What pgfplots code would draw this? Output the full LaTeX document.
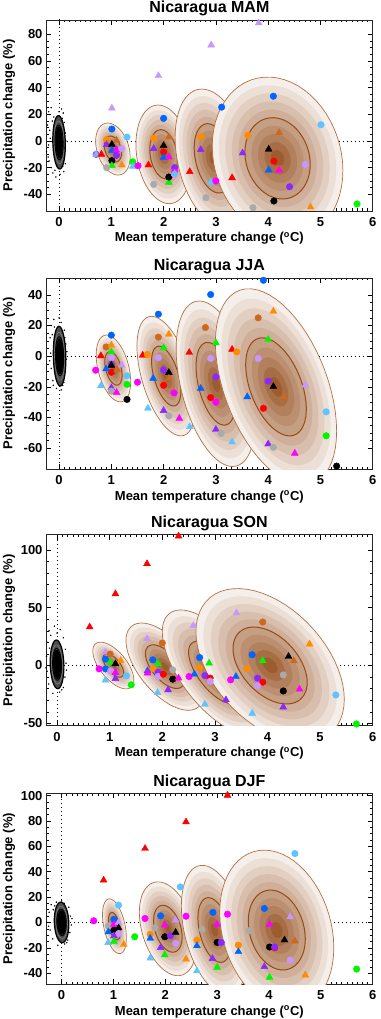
\documentclass[border=0pt]{standalone}
\usepackage{pgfplots}
\pgfplotsset{compat=1.18}
\usepackage{pgfplotstable}
\usepackage{fontspec}
\setmainfont{Liberation Sans}

\definecolor{ecore}{RGB}{148,78,28}
\colorlet{e1}{ecore!9!white}
\colorlet{e2}{ecore!18!white}
\colorlet{e3}{ecore!27!white}
\colorlet{e4}{ecore!36!white}
\colorlet{e5}{ecore!45!white}
\colorlet{e6}{ecore!54!white}
\colorlet{e7}{ecore!63!white}
\colorlet{e8}{ecore!72!white}
\colorlet{e9}{ecore!82!white}
\colorlet{e10}{ecore!92!white}
\definecolor{eline}{RGB}{180,112,65}
\definecolor{ein}{RGB}{150,75,20}
\definecolor{cblue}{RGB}{0,100,255}
\definecolor{clblue}{RGB}{95,195,255}
\definecolor{cred}{RGB}{255,0,0}
\definecolor{corange}{RGB}{255,140,0}
\definecolor{cbrown}{RGB}{205,105,30}
\definecolor{cgreen}{RGB}{0,245,0}
\definecolor{cmag}{RGB}{255,0,255}
\definecolor{cpurple}{RGB}{140,40,255}
\definecolor{clav}{RGB}{200,150,255}
\definecolor{cgray}{RGB}{170,170,170}

% ellipse: cx cy sx sy rho scale colour
\newcommand{\ellband}[7]{\addplot[draw=none,fill=#7,domain=0:360,samples=61,forget plot]
 ({#1+#6*#3*cos(x)},{#2+#6*#4*((#5)*cos(x)+sqrt(1-(#5)*(#5))*sin(x))});}
\newcommand{\ellcurve}[7]{\addplot[#7,domain=0:360,samples=61,forget plot]
 ({#1+#6*#3*cos(x)},{#2+#6*#4*((#5)*cos(x)+sqrt(1-(#5)*(#5))*sin(x))});}
\newcommand{\ellgrp}[5]{%
\ellband{#1}{#2}{#3}{#4}{#5}{1.0}{e1}%
\ellband{#1}{#2}{#3}{#4}{#5}{0.9}{e2}%
\ellband{#1}{#2}{#3}{#4}{#5}{0.8}{e3}%
\ellband{#1}{#2}{#3}{#4}{#5}{0.7}{e4}%
\ellband{#1}{#2}{#3}{#4}{#5}{0.6}{e5}%
\ellband{#1}{#2}{#3}{#4}{#5}{0.5}{e6}%
\ellband{#1}{#2}{#3}{#4}{#5}{0.4}{e7}%
\ellband{#1}{#2}{#3}{#4}{#5}{0.3}{e8}%
\ellband{#1}{#2}{#3}{#4}{#5}{0.2}{e9}%
\ellband{#1}{#2}{#3}{#4}{#5}{0.1}{e10}%
\ellcurve{#1}{#2}{#3}{#4}{#5}{1.0}{draw=eline,line width=0.7pt}%
\ellcurve{#1}{#2}{#3}{#4}{#5}{0.5}{draw=ein,line width=1pt}%
}
\newcommand{\cloudgrp}[5]{%
\ellband{#1}{#2}{#3}{#4}{#5}{1.0}{black!70}%
\ellband{#1}{#2}{#3}{#4}{#5}{0.6}{black}%
\ellcurve{#1}{#2}{#3}{#4}{#5}{1.0}{draw=black,line width=1.2pt}%
\ellcurve{#1}{#2}{#3}{#4}{#5}{0.8}{draw=white!60!black,line width=0.3pt}%
\ellcurve{#1}{#2}{#3}{#4}{#5}{0.65}{draw=black,line width=0.9pt}%
}

\pgfplotsset{
 panel/.style={
  scale only axis, width=326.7pt, height=191pt, xmax=6,
  xtick={0,1,2,3,4,5,6}, minor x tick num=9,
  tick pos=both, xticklabel pos=lower, yticklabel pos=left,
  tick align=inside, major tick length=5pt, minor tick length=2.5pt,
  every tick/.style={black,line width=0.5pt},
  axis line style={line width=0.8pt,black!85},
  tick label style={font=\fontsize{13}{13}\selectfont\bfseries},
  /pgf/number format/assume math mode=true,
  xticklabel style={yshift=-3pt},
  every axis title/.style={at={(axis description cs:0.5,1)},anchor=base,yshift=7pt,font=\fontsize{16}{16}\selectfont\bfseries},
  every axis x label/.style={at={(axis description cs:0.5,0)},anchor=base,yshift=-31pt,font=\fontsize{13}{13}\selectfont\bfseries},
  every axis y label/.style={at={([xshift=-33.7pt]axis description cs:0,0.5)},rotate=90,anchor=base,font=\fontsize{13}{13}\selectfont\bfseries},
  xlabel={Mean temperature change (\textsuperscript{o}C)},
  ylabel={Precipitation change (\%)},
 },
 pts/.style={scatter, only marks, scatter src=explicit symbolic, mark size=3.3pt,
  scatter/classes={
   BC={mark=*,cblue}, BT={mark=triangle*,cblue,mark size=4pt},
   LC={mark=*,clblue}, LT={mark=triangle*,clblue,mark size=4pt},
   RC={mark=*,cred}, RT={mark=triangle*,cred,mark size=4pt},
   KC={mark=*,black}, KT={mark=triangle*,black,mark size=4pt},
   OC={mark=*,corange}, OT={mark=triangle*,corange,mark size=4pt},
   NC={mark=*,cbrown}, NT={mark=triangle*,cbrown,mark size=4pt},
   GC={mark=*,cgreen}, GT={mark=triangle*,cgreen,mark size=4pt},
   MC={mark=*,cmag}, MT={mark=triangle*,cmag,mark size=4pt},
   PC={mark=*,cpurple}, PT={mark=triangle*,cpurple,mark size=4pt},
   VC={mark=*,clav}, VT={mark=triangle*,clav,mark size=4pt},
   AC={mark=*,cgray}, AT={mark=triangle*,cgray,mark size=4pt}}},
 zl/.style={black,line width=0.9pt,dash pattern=on 0.9pt off 3.1pt,forget plot},
 dots/.style={only marks,mark=*,mark size=0.5pt,black,forget plot},
}

\pgfplotstableread{
x y c
1.01 24.6 VT
1.90 49 VT
2.91 72 VT
3.82 88.6 VT
1.01 9.0 BC
2.00 17 BC
3.11 25.4 BC
4.10 33.6 BC
5.01 12.2 LC
1.30 3 LC
0.91 1 OC
0.91 -2.7 PT
1.10 0.5 NT
1.01 -2.5 KT
1.01 -7 BT
1.10 -6.5 MT
1.20 -5.7 VC
1.10 -10.7 PC
0.71 -10 MC
0.71 -10 LT
0.81 -10 RT
1.01 -14.7 KC
1.01 -18.5 GT
0.91 -20 AC
1.20 -18 OT
1.41 -15.6 GC
1.41 -19 LT
1.51 -18.5 MC
1.71 -18 RT
1.81 -32.5 AC
2.10 -31 GT
2.10 -27 KC
2.21 -20 PC
2.21 -23 MC
2.21 -25 VC
2.21 -24.5 LT
1.81 2.2 OC
2.10 3 NT
2.00 -3.4 KT
2.00 -8.2 RC
1.81 -5.7 PT
2.00 -12.4 BT
2.10 -12 MT
2.50 -23 RT
2.90 -31 LT
3.00 -30 MC
3.31 -27.6 RT
2.81 -42.5 AC
3.71 -50 AC
2.71 3.3 OC
2.71 -6.5 PT
3.51 -9 PT
3.61 4.3 OC
4.21 6.3 NT
4.01 -6.2 KT
4.21 -20.5 NC
4.11 -15.1 RC
4.01 -21.8 BT
4.21 -21.8 MT
4.71 -17.6 VC
4.41 -34.3 PC
4.11 -45 KC
4.81 -49.5 OT
5.70 -47.2 GC
}\ptsA

\pgfplotstableread{
x y c
1.00 13.7 BC
0.90 6 NC
1.00 7.2 OT
1.00 2.8 GT
0.80 0.2 OT
0.80 0.2 RT
1.00 -1 VC
1.00 -5.2 PC
1.00 -6 KT
1.00 -10.5 RC
0.90 -8.3 BT
1.20 -5.9 VT
1.11 -9 NT
0.70 -9.1 MC
1.30 -12.8 LC
1.30 -18.4 GC
0.80 -19.3 LT
1.00 -20.6 PT
1.00 -22.8 AC
1.10 -23.7 MT
1.30 -28.2 KC
1.50 -17 MC
1.60 0.6 RT
1.69 1.1 OC
1.90 27.4 BC
1.90 12.4 NC
2.10 14.3 OT
2.00 5.4 GT
1.90 -1 VC
2.00 -9 PC
2.10 -10.7 KT
2.10 -14.5 NT
1.80 -14.5 BT
2.00 -19 RC
2.20 -24 MC
1.70 -34 LT
2.00 -35.5 PT
2.10 -38.9 AC
2.30 -40.6 MT
2.50 -46 LT
2.49 2.4 RT
2.90 40.2 BC
2.80 18.7 NC
3.00 8.7 GT
2.90 -1.5 VC
3.00 -13.5 PC
2.71 -21 BT
2.90 -27 RC
3.00 -30 MC
3.00 -47.8 PT
3.10 -50.4 AC
3.31 -56 LT
3.60 -26.5 BT
3.91 -34 RC
4.00 -57.3 PT
4.10 -59.5 AC
4.51 -63.4 MT
4.10 -19.8 KT
4.31 -26.5 NT
4.71 -18.9 VT
4.00 -16.3 PC
5.11 -36.3 LC
5.11 -51.9 GC
5.31 -71.7 KC
3.91 49.5 BC
4.10 29.3 OT
3.81 25 NC
4.00 10.9 GT
3.31 4.4 RT
3.40 2.8 OC
3.81 -1.5 VC
}\ptsB

\pgfplotstableread{
x y c
0.62 33.3 RT
1.11 61.9 RT
1.71 87.9 RT
2.31 111.8 RT
3.41 45.4 VT
3.91 37.6 NC
2.59 34.4 VT
1.71 23.1 VT
2.00 19.4 NC
4.80 18.5 OT
0.92 11.6 VT
1.01 9.9 NC
0.92 5.5 BC
1.01 2.6 GT
1.21 4.3 OT
1.11 1.5 KT
0.80 -2.9 MC
0.92 -2.9 BC
1.02 -4.6 VC
1.11 -6.1 MT
1.11 -11.3 PT
0.92 -12.7 LT
1.32 -8.9 LC
1.41 -16.7 GC
1.82 4.9 BC
1.92 1.5 GT
1.82 -2.7 OC
1.72 -4.6 BT
1.72 -6.6 MT
1.92 -5.8 PC
1.92 -9.5 VC
2.02 -7.5 RC
2.20 -3.7 AC
2.20 -11.8 KC
2.31 -10.9 MT
2.11 -21 PT
1.91 -23.4 LT
2.51 -9.5 MC
2.61 -7.5 BT
2.71 6.9 BC
2.71 -2.1 OC
2.89 2 GT
2.81 -8.7 PC
2.91 -10.9 RC
2.91 -13.6 VC
2.81 -33.5 LT
3.21 -29.7 PT
3.30 -12.4 MC
3.40 -9.5 BT
3.71 9.3 BC
3.91 4.1 GT
4.40 7.8 KT
4.50 4.1 NT
3.61 -2.9 OC
4.30 -8.1 AC
3.81 -10.9 PC
3.91 -14.4 RC
3.81 -17.4 VC
4.30 -22 KC
4.61 -20.5 MT
4.30 -35.9 PT
3.71 -41.3 LT
5.30 -25.4 LC
5.69 -50.5 GC
}\ptsC

\pgfplotstableread{
x y c
0.81 33.3 RT
1.61 58.3 RT
2.40 79.2 RT
3.20 100.2 RT
2.29 28 LC
4.50 54.3 LC
1.10 13.6 LC
0.62 1.3 MC
1.01 2.4 BC
0.90 -2.7 AC
1.01 -1.5 MT
1.10 0 VT
1.01 -6.2 KC
1.10 -4.4 KT
0.90 -7.5 BT
1.10 -8.8 VC
1.01 -10.7 PT
0.90 -15.9 LT
1.01 -14.9 GT
1.20 -17.4 OT
1.41 -11.3 GC
1.61 3.1 MC
1.91 5.2 BC
1.80 -4.2 AC
1.99 -2.1 MT
2.20 1.8 VT
1.99 -11.3 KC
2.10 -10.5 PC
2.20 -7.9 KT
1.71 -9.4 OC
1.71 -12.5 BT
2.20 -16.5 VC
1.91 -19.9 PT
1.99 -25.6 GT
1.71 -28.2 LT
2.40 -28.9 OT
2.40 4.9 MC
2.92 7.9 BC
3.20 6.5 MC
3.00 -1.5 MT
2.71 -5.5 AC
2.61 -13.9 OC
2.61 -18.4 BT
3.00 -15.8 KC
3.08 -15.8 PC
2.91 -28.5 PT
3.00 -35.4 GT
2.61 -38.3 LT
3.41 -17.9 OC
3.41 -23.1 BT
3.91 11 BC
3.61 -6.6 AC
4.01 -1.5 MT
4.41 4.4 VT
4.01 -19.4 KC
4.11 -20 RC
4.11 -19.4 PC
4.30 -13.9 KT
4.50 -14.7 NT
4.41 -29.7 VC
3.91 -34.9 PT
4.01 -43.3 GT
4.70 -41.5 OT
5.69 -36.8 GC
}\ptsD

\pgfplotstableread{
x y
-0.20 22
-0.15 25
-0.10 18
0.05 24
0.08 21
-0.22 12
-0.18 8
0.10 14
0.12 6
-0.20 -3
-0.24 -8
0.11 -5
0.10 -12
-0.19 -15
-0.15 -20
0.07 -19
0.02 -25
-0.06 -27
-0.12 -24
0.09 -23
-0.17 2
0.13 0
-0.13 15
0.00 22
-0.08 -22
0.06 17
-0.21 -12
0.12 -17
}\dotsA

\pgfplotstableread{
x y
-0.15 20
-0.10 24
0.04 22
0.10 17
-0.17 12
0.13 8
-0.16 2
0.14 -2
-0.15 -8
0.12 -10
-0.12 -16
0.09 -17
-0.05 -21
0.04 -22
-0.09 19
0.00 25
0.15 3
-0.18 -3
0.07 -19
-0.13 14
0.11 12
-0.11 -19
}\dotsB

\pgfplotstableread{
x y
-0.15 30
-0.05 34
0.06 31
0.12 24
-0.18 20
0.16 14
-0.20 8
0.17 2
-0.19 -5
0.15 -10
-0.16 -16
0.12 -19
-0.08 -24
0.05 -23
-0.12 26
0.00 28
0.18 -4
-0.21 -2
0.09 -21
-0.14 15
}\dotsC

\pgfplotstableread{
x y
-0.20 14
-0.10 16
0.05 15
0.14 12
-0.24 8
0.17 5
-0.26 0
0.19 -2
-0.22 -6
0.16 -8
-0.17 -13
0.12 -14
-0.07 -18
0.06 -17
-0.13 13
0.00 17
0.20 3
-0.25 -3
0.10 -16
-0.16 10
}\dotsD

\begin{document}
\begin{tikzpicture}
\path[use as bounding box] (0,0) rectangle (380pt,-1019pt);

% ---------- MAM
\begin{axis}[panel, at={(46pt,-211pt)}, anchor=south west,
  title={Nicaragua MAM}, xmin=-0.25, ymin=-52.5, ymax=90.8,
  ytick={-40,-20,0,20,40,60,80}, minor y tick num=3]
\addplot[zl] coordinates {(-1,0) (7,0)};
\addplot[zl] coordinates {(0,-200) (0,200)};
\addplot[dots] table {\dotsA};
\cloudgrp{0}{-1}{0.12}{20}{-0.1}
\ellgrp{1.03}{-6}{0.33}{19.5}{-0.3}
\ellgrp{2.0}{-10}{0.53}{37}{-0.2}
\ellgrp{2.95}{-13}{0.73}{52}{-0.3}
\ellgrp{4.18}{-13}{1.25}{61}{-0.15}
\addplot[pts] table[meta=c] {\ptsA};
\end{axis}

% ---------- JJA
\begin{axis}[panel, at={(46pt,-469pt)}, anchor=south west,
  title={Nicaragua JJA}, xmin=-0.25, ymin=-73.6, ymax=51,
  ytick={-60,-40,-20,0,20,40}, minor y tick num=3]
\addplot[zl] coordinates {(-1,0) (7,0)};
\addplot[zl] coordinates {(0,-200) (0,200)};
\addplot[dots] table {\dotsB};
\cloudgrp{0.01}{0}{0.12}{19.5}{-0.1}
\ellgrp{1.04}{-8}{0.33}{21.8}{-0.4}
\ellgrp{2.05}{-13}{0.56}{39}{-0.5}
\ellgrp{3.0}{-18}{0.76}{54}{-0.42}
\ellgrp{4.15}{-20}{1.16}{64}{-0.45}
\addplot[pts] table[meta=c] {\ptsB};
\end{axis}

% ---------- SON
\begin{axis}[panel, at={(46pt,-725.7pt)}, anchor=south west,
  title={Nicaragua SON}, xmin=-0.21, ymin=-52, ymax=113,
  ytick={-50,0,50,100}, minor y tick num=4]
\addplot[zl] coordinates {(-1,0) (7,0)};
\addplot[zl] coordinates {(0,-200) (0,200)};
\addplot[dots] table {\dotsC};
\cloudgrp{0}{1}{0.13}{21}{-0.1}
\ellgrp{1.07}{0}{0.39}{20.2}{-0.62}
\ellgrp{2.05}{-1}{0.74}{37.7}{-0.6}
\ellgrp{3.0}{-6}{1.0}{54}{-0.65}
\ellgrp{4.05}{0}{1.41}{66.5}{-0.44}
\addplot[pts] table[meta=c] {\ptsC};
\end{axis}

% ---------- DJF
\begin{axis}[panel, at={(46pt,-984.3pt)}, anchor=south west,
  title={Nicaragua DJF}, xmin=-0.30, ymin=-48.8, ymax=101.8,
  ytick={-40,-20,0,20,40,60,80,100}, minor y tick num=3]
\addplot[zl] coordinates {(-1,0) (7,0)};
\addplot[zl] coordinates {(0,-200) (0,200)};
\addplot[dots] table {\dotsD};
\cloudgrp{0}{0}{0.14}{16}{-0.1}
\ellgrp{1.02}{-3}{0.23}{21.6}{-0.42}
\ellgrp{2.05}{-5}{0.55}{37}{-0.35}
\ellgrp{2.95}{-6}{0.64}{51}{-0.37}
\ellgrp{4.15}{-6}{1.1}{63}{-0.22}
\addplot[pts] table[meta=c] {\ptsD};
\end{axis}
\end{tikzpicture}
\end{document}
